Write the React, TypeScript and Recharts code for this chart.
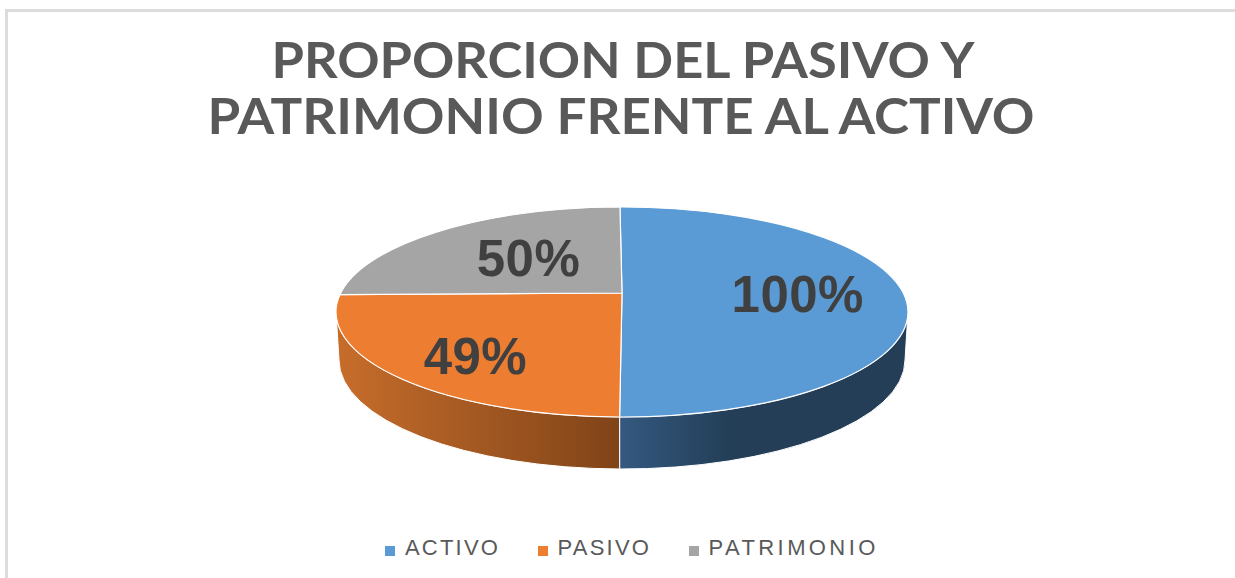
import React from "react";
import { PieChart, Pie, Legend } from "recharts";

const categories = ["ACTIVO", "PASIVO", "PATRIMONIO"];
const values = [100, 49, 50];
const labels = ["100%", "49%", "50%"];
const colors = ["#5b9bd5", "#ed7d31", "#a5a5a5"];
const titleLines = ["PROPORCION DEL PASIVO Y", "PATRIMONIO FRENTE AL ACTIVO"];

const tableData = categories.map((name, i) => ({ name, value: values[i], fill: colors[i] }));

// Look of the tilted disc
const RX = 286;
const RY = 105;
const APEX_LIFT = 19; // the disc's centre sits above the ellipse centre because of the perspective
const SIDE_RX = 283;
const SIDE_RY = 109;
const SIDE_DROP = 48;
const LABEL_RATIO = [0.625, 0.65, 0.528];
const LABEL_DROP = [2, 9, -1];
const LEGEND_SPACING = [2.2, 2.2, 3.4];
const RAD = Math.PI / 180;

// Casts a ray from the apex at a chart angle and returns where it meets the rim.
function rimHit(angle: number) {
  const c = Math.cos(angle * RAD);
  const s = -Math.sin(angle * RAD);
  const k = APEX_LIFT / RY;
  const t = k * s + Math.sqrt(k * k * s * s - k * k + 1);
  const ex = t * c;
  const ey = t * s - k;
  return { t, phi: Math.atan2(ey, ex) / RAD };
}

function DiscSector(props: any) {
  const { cx, startAngle, endAngle, fill, index } = props;
  const apexY = props.cy;
  const ecy = apexY + APEX_LIFT;
  const h1 = rimHit(startAngle);
  const h2 = rimHit(endAngle);
  const phi1 = h1.phi;
  let phi2 = h2.phi;
  while (phi2 <= phi1) phi2 += 360;
  const top = (p: number) => [cx + RX * Math.cos(p * RAD), ecy + RY * Math.sin(p * RAD)];
  const bot = (p: number) => [cx + SIDE_RX * Math.cos(p * RAD), ecy + SIDE_DROP + SIDE_RY * Math.sin(p * RAD)];
  const [x1, y1] = top(phi1);
  const [x2, y2] = top(phi2);
  const large = phi2 - phi1 > 180 ? 1 : 0;
  const face = `M${cx},${apexY} L${x1},${y1} A${RX},${RY} 0 ${large} 1 ${x2},${y2} Z`;

  // visible part of the rim: lower half of the ellipse
  const low = Math.max(phi1, 0);
  const high = Math.min(phi2, 180);
  let side = null;
  if (high > low) {
    const [tx1, ty1] = top(low);
    const [tx2, ty2] = top(high);
    const [bx1, by1] = bot(low);
    const [bx2, by2] = bot(high);
    const d = `M${tx1},${ty1} A${RX},${RY} 0 0 1 ${tx2},${ty2} L${bx2},${by2} A${SIDE_RX},${SIDE_RY} 0 0 0 ${bx1},${by1} Z`;
    side = <path d={d} fill={`url(#side-${index})`} stroke="#ffffff" strokeWidth={1} />;
  }
  return (
    <g>
      <defs>
        <linearGradient id="side-0" gradientUnits="userSpaceOnUse" x1={cx} x2={cx + 110} y1="0" y2="0">
          <stop offset="0" stopColor="#34587f" />
          <stop offset="1" stopColor="#233e56" />
        </linearGradient>
        <linearGradient id="side-1" gradientUnits="userSpaceOnUse" x1={cx - RX} x2={cx} y1="0" y2="0">
          <stop offset="0" stopColor="#c76d2b" />
          <stop offset="1" stopColor="#7f4318" />
        </linearGradient>
      </defs>
      {side}
      <path d={face} fill={fill} stroke="#ffffff" strokeWidth={1.2} strokeLinejoin="round" />
    </g>
  );
}

function renderLabel(props: any) {
  const { cx, cy, midAngle, index } = props;
  const hit = rimHit(midAngle);
  const r = hit.t * LABEL_RATIO[index];
  const x = cx + r * RX * Math.cos(midAngle * RAD);
  const y = cy - r * RY * Math.sin(midAngle * RAD) + LABEL_DROP[index];
  return (
    <text
      x={x}
      y={y}
      textAnchor="middle"
      dominantBaseline="central"
      fill="#404040"
      fontFamily="'Liberation Sans', Arial, sans-serif"
      fontWeight={700}
      fontSize={51}
      letterSpacing={0.5}
    >
      {labels[index]}
    </text>
  );
}

const legendText = (value: string) => (
  <span
    style={{
      color: "#595959",
      fontFamily: "'Liberation Sans', Arial, sans-serif",
      fontSize: 22,
      letterSpacing: LEGEND_SPACING[categories.indexOf(value)],
      marginLeft: 6,
      marginRight: 27.5,
    }}
  >
    {value}
  </span>
);

export default function App() {
  return (
    <div style={{ position: "absolute", left: 0, top: 0, width: 1235, height: 578, background: "#fff", overflow: "hidden" }}>
      <div style={{ position: "absolute", left: 5, top: 9, right: 0, height: 3, background: "#dcdcdc" }} />
      <div style={{ position: "absolute", left: 5, top: 9, bottom: 0, width: 3, background: "#dcdcdc" }} />
      <PieChart width={1235} height={578} margin={{ top: 0, right: 0, bottom: 0, left: 0 }}>
        <text x={623} y={78} textAnchor="middle" fill="#595959" fontFamily="Lato, sans-serif" fontWeight={700} fontSize={50} textLength={703} lengthAdjust="spacingAndGlyphs">
          {titleLines[0]}
        </text>
        <text x={621} y={134} textAnchor="middle" fill="#595959" fontFamily="Lato, sans-serif" fontWeight={700} fontSize={50} textLength={827} lengthAdjust="spacingAndGlyphs">
          {titleLines[1]}
        </text>
        <Pie
          data={tableData}
          dataKey="value"
          nameKey="name"
          cx={622}
          cy={293}
          outerRadius={RX}
          startAngle={90.5}
          endAngle={-269.5}
          paddingAngle={0}
          isAnimationActive={false}
          legendType="square"
          shape={DiscSector}
          label={renderLabel}
          labelLine={false}
        />
        <Legend
          layout="horizontal"
          align="left"
          iconType="square"
          iconSize={10}
          formatter={legendText}
          wrapperStyle={{ position: "absolute", left: 385, top: 535, width: 560, bottom: "auto" }}
        />
      </PieChart>
    </div>
  );
}
